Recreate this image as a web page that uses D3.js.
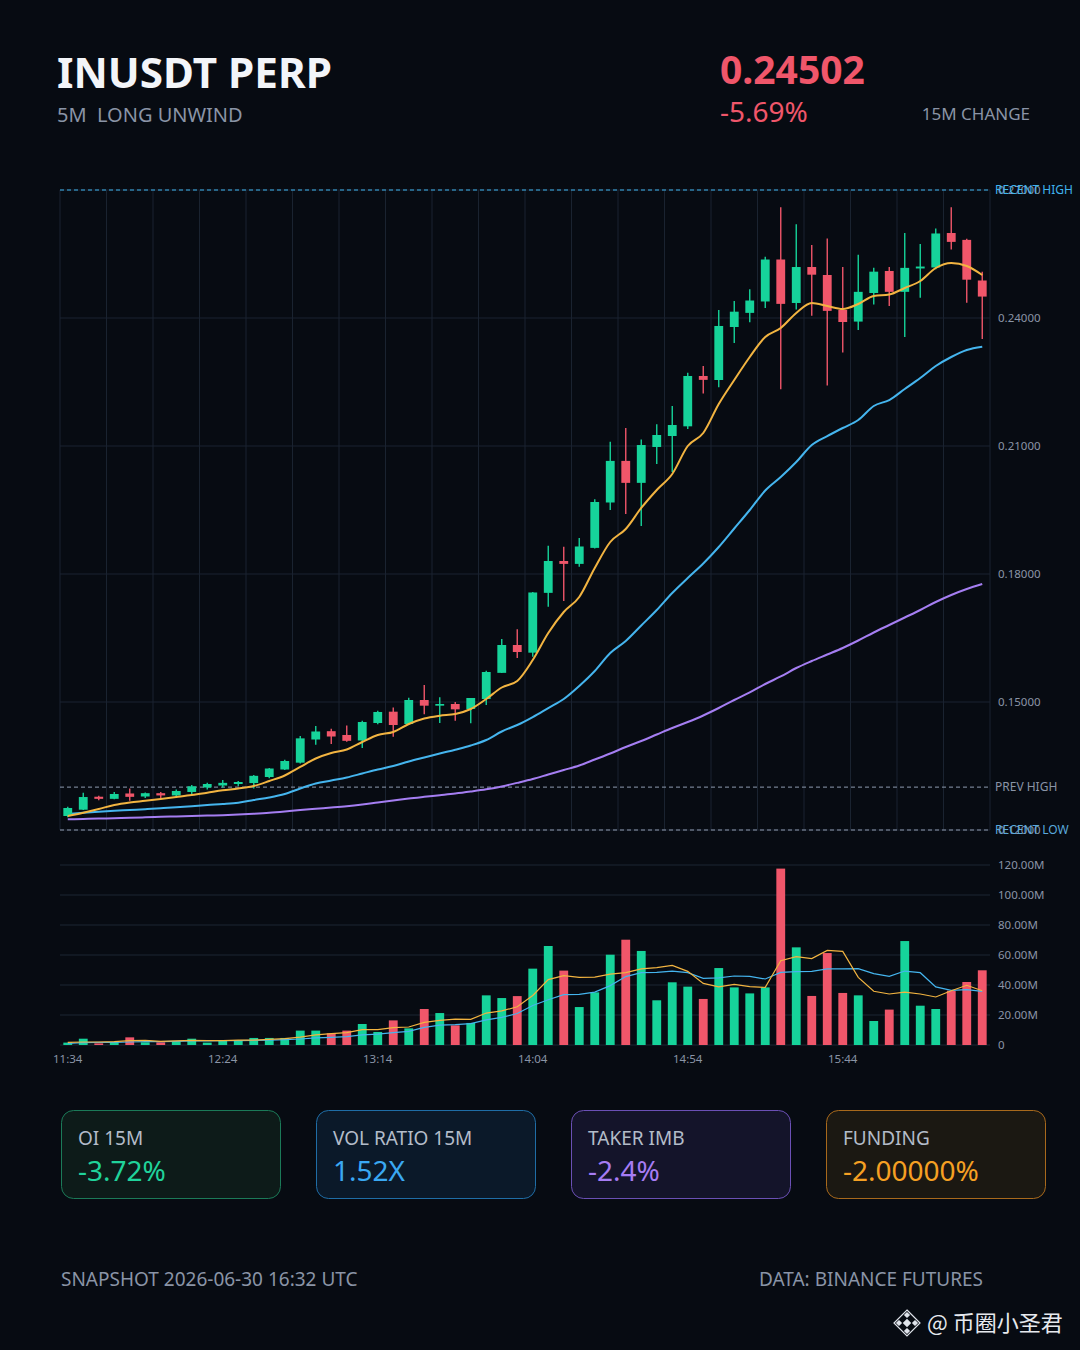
<!DOCTYPE html>
<html>
<head>
<meta charset="utf-8">
<script src="https://cdn.jsdelivr.net/npm/d3@7"></script>
<style>
  body { margin: 0; background: #070b12; }
  svg { display: block; font-family: "Noto Sans", sans-serif; }
</style>
</head>
<body>
<div id="chart"></div>
<script>
// ---------------------------------------- data ----------------------------------------
const opens  = [0.12328,0.12476,0.12780,0.12730,0.12856,0.12785,0.12863,0.12810,0.12891,0.12996,
                0.13043,0.13078,0.13100,0.13242,0.13418,0.13578,0.14121,0.14316,0.14227,0.14098,
                0.14508,0.14773,0.14484,0.15047,0.14914,0.14953,0.14836,0.15070,0.15683,0.16336,
                0.16156,0.17558,0.18305,0.18237,0.18612,0.19676,0.20651,0.20136,0.20977,0.21234,
                0.21461,0.22641,0.22547,0.23789,0.24120,0.24387,0.25371,0.24352,0.25195,0.25008,
                0.24188,0.23916,0.24586,0.25102,0.24613,0.25161,0.25184,0.25992,0.25831,0.24879]
const highs  = [0.12546,0.12874,0.12800,0.12890,0.12973,0.12880,0.12890,0.12950,0.13055,0.13110,
                0.13174,0.13150,0.13290,0.13456,0.13644,0.14203,0.14437,0.14375,0.14449,0.14560,
                0.14797,0.14871,0.15100,0.15398,0.15110,0.15000,0.15094,0.15734,0.16477,0.16704,
                0.17581,0.18663,0.18640,0.18844,0.19750,0.21101,0.21422,0.21153,0.21508,0.21938,
                0.22714,0.22875,0.24188,0.24398,0.24673,0.25434,0.26595,0.26196,0.25710,0.25866,
                0.25195,0.25484,0.25175,0.25195,0.25995,0.25734,0.26098,0.26595,0.25855,0.25086]
const lows   = [0.12300,0.12469,0.12700,0.12720,0.12684,0.12750,0.12740,0.12780,0.12844,0.12950,
                0.12996,0.13030,0.12970,0.13210,0.13406,0.13560,0.13997,0.14016,0.14066,0.13920,
                0.14480,0.14187,0.14460,0.14710,0.14510,0.14559,0.14500,0.14930,0.15680,0.16034,
                0.16060,0.17233,0.17367,0.18167,0.18600,0.19500,0.19406,0.19127,0.20578,0.20393,
                0.21400,0.22230,0.22375,0.23414,0.23899,0.24234,0.22329,0.24200,0.24050,0.22420,
                0.23192,0.23721,0.24317,0.24284,0.23557,0.24472,0.25144,0.25605,0.24355,0.23510]
const closes = [0.12516,0.12773,0.12730,0.12844,0.12777,0.12863,0.12810,0.12914,0.13024,0.13078,
                0.13105,0.13125,0.13270,0.13441,0.13617,0.14148,0.14309,0.14191,0.14090,0.14531,
                0.14766,0.14461,0.15047,0.14914,0.14953,0.14828,0.15094,0.15703,0.16336,0.16172,
                0.17567,0.18305,0.18237,0.18645,0.19688,0.20651,0.20136,0.21023,0.21258,0.21492,
                0.22641,0.22550,0.23813,0.24148,0.24410,0.25371,0.24331,0.25195,0.25015,0.24167,
                0.23906,0.24613,0.25086,0.24613,0.25175,0.25206,0.25981,0.25784,0.24898,0.24502]

// moving averages as drawn (they include history before the window)
const maFast = [0.12328,0.12405,0.12492,0.12586,0.12645,0.12684,0.12727,0.12773,0.12820,0.12874,
                0.12930,0.12973,0.13031,0.13148,0.13277,0.13477,0.13676,0.13805,0.13887,0.14063,
                0.14227,0.14297,0.14484,0.14613,0.14679,0.14719,0.14836,0.15070,0.15340,0.15492,
                0.15984,0.16617,0.17109,0.17461,0.18141,0.18750,0.19055,0.19547,0.19969,0.20344,
                0.21000,0.21305,0.21984,0.22547,0.23086,0.23555,0.23766,0.24117,0.24352,0.24281,
                0.24211,0.24328,0.24516,0.24551,0.24703,0.24867,0.25172,0.25289,0.25219,0.25008]
const maMid  = [0.12375,0.12403,0.12429,0.12450,0.12469,0.12488,0.12509,0.12532,0.12558,0.12586,
                0.12609,0.12640,0.12703,0.12762,0.12844,0.12973,0.13090,0.13160,0.13230,0.13324,
                0.13418,0.13500,0.13605,0.13699,0.13793,0.13882,0.13980,0.14109,0.14309,0.14461,
                0.14648,0.14859,0.15070,0.15375,0.15727,0.16148,0.16430,0.16793,0.17156,0.17555,
                0.17906,0.18246,0.18633,0.19066,0.19500,0.19957,0.20273,0.20625,0.21023,0.21234,
                0.21422,0.21609,0.21938,0.22078,0.22336,0.22594,0.22875,0.23086,0.23250,0.23327]
const maSlow = [0.12251,0.12258,0.12267,0.12277,0.12286,0.12298,0.12309,0.12319,0.12328,0.12338,
                0.12347,0.12361,0.12380,0.12403,0.12434,0.12469,0.12499,0.12527,0.12558,0.12598,
                0.12645,0.12691,0.12738,0.12778,0.12816,0.12855,0.12902,0.12954,0.13020,0.13105,
                0.13195,0.13301,0.13406,0.13512,0.13652,0.13793,0.13945,0.14086,0.14238,0.14391,
                0.14531,0.14684,0.14859,0.15047,0.15223,0.15422,0.15598,0.15797,0.15961,0.16113,
                0.16266,0.16441,0.16629,0.16805,0.16980,0.17156,0.17344,0.17508,0.17648,0.17766]

// volume in millions
const volumes = [1.6,4.2,1.1,2.0,5.1,1.8,1.8,2.4,4.2,1.6,
                 2.9,2.9,4.7,4.7,4.7,9.6,9.6,7.8,9.6,14.0,
                 8.7,16.4,11.1,24.0,21.3,13.1,14.7,33.1,31.3,32.6,
                 50.9,66.0,49.6,25.3,35.1,60.2,70.2,62.7,29.8,41.8,
                 38.9,30.7,51.3,38.4,34.4,38.4,117.6,65.1,32.7,61.3,
                 34.7,33.1,16.0,23.6,69.3,26.2,24.0,36.2,42.0,49.8]
const volMaFast = [1.8,2.0,2.0,2.2,2.9,3.1,2.4,2.7,3.1,2.9,
                   2.9,3.3,3.3,3.8,4.2,5.3,6.7,7.6,8.2,10.2,
                   10.2,11.6,12.0,15.1,16.4,17.3,17.1,21.3,22.7,25.5,
                   33.0,43.6,46.2,45.1,45.3,47.3,48.2,50.7,51.6,53.1,
                   49.1,41.1,38.7,40.4,38.9,38.4,56.2,58.9,57.6,63.1,
                   62.4,45.1,35.8,34.0,35.3,34.0,32.0,36.2,39.8,36.2]
const volMaSlow = [1.1,1.6,1.8,1.8,2.0,2.2,2.2,2.4,2.7,2.7,
                   2.9,2.9,3.1,3.3,3.6,4.0,4.7,5.1,5.6,6.7,
                   7.3,8.2,9.1,11.8,13.3,13.6,14.2,16.7,18.4,21.0,
                   26.3,30.2,33.6,33.8,35.3,39.6,45.6,48.2,48.4,49.3,
                   48.2,44.4,44.7,46.0,45.8,44.0,48.4,48.9,49.1,50.7,
                   50.7,50.9,47.6,45.8,49.3,48.2,38.7,36.4,36.9,35.8]

const timeTickIdx = [0, 10, 20, 30, 40, 50]
const timeLabels = ["11:34", "12:24", "13:14", "14:04", "14:54", "15:44"]
const priceTicks = [0.12, 0.15, 0.18, 0.21, 0.24, 0.27]
const volTicks = [0, 20, 40, 60, 80, 100, 120]

const levelNames = ["RECENT HIGH", "PREV HIGH", "RECENT LOW"]
const levelValues = [0.27, 0.13005, 0.12]

const cardLabels = ["OI 15M", "VOL RATIO 15M", "TAKER IMB", "FUNDING"]
const cardValues = ["-3.72%", "1.52X", "-2.4%", "-2.00000%"]

const GREEN = "#16d39a", RED = "#f0566a", MUTED = "#8a94a6", GRID = "#1a2330"

// ---------------------------------------- svg ----------------------------------------
var W = 1080, H = 1350
var svg = d3.select("#chart").append("svg")
    .attr("width", W)
    .attr("height", H)

svg.append("rect").attr("width", W).attr("height", H).attr("fill", "#070b12")

// header
svg.append("text").attr("x", 57).attr("y", 88)
  .attr("fill", "#f3f5f9").attr("font-size", 42).attr("font-weight", 700)
  .attr("textLength", 275).attr("lengthAdjust", "spacingAndGlyphs")
  .text("INUSDT PERP")
svg.append("text").attr("x", 57).attr("y", 122)
  .attr("fill", MUTED).attr("font-size", 20)
  .attr("xml:space", "preserve")
  .text("5M  LONG UNWIND")
svg.append("text").attr("x", 720).attr("y", 84)
  .attr("fill", RED).attr("font-size", 39).attr("font-weight", 700)
  .text(d3.format(".5f")(closes[closes.length - 1]))
svg.append("text").attr("x", 720).attr("y", 122)
  .attr("fill", RED).attr("font-size", 28)
  .text("-5.69%")
svg.append("text").attr("x", 1030).attr("y", 120)
  .attr("fill", MUTED).attr("font-size", 17).attr("text-anchor", "end")
  .text("15M CHANGE")

// ---------------------------------------- price panel ----------------------------------------
var xScale = d3.scaleBand()
    .domain(d3.range(closes.length))
    .range([60, 990])
var cx = i => xScale(i) + xScale.bandwidth() / 2
var bodyW = xScale.bandwidth() * 0.57

var yScale = d3.scaleLinear()
    .domain([0.12, 0.27])
    .range([830, 190])

var priceG = svg.append("g").attr("class", "price")

// vertical grid every 3 candles
var vLines = d3.range(0, closes.length + 1, 3)
priceG.selectAll(".vgrid").data(vLines).enter().append("line")
  .attr("x1", d => d < closes.length ? xScale(d) : xScale.range()[1])
  .attr("x2", d => d < closes.length ? xScale(d) : xScale.range()[1])
  .attr("y1", yScale.range()[1]).attr("y2", yScale.range()[0])
  .attr("stroke", GRID).attr("stroke-width", 1)

priceG.selectAll(".hgrid").data(priceTicks).enter().append("line")
  .attr("x1", 60).attr("x2", 990)
  .attr("y1", d => yScale(d)).attr("y2", d => yScale(d))
  .attr("stroke", GRID).attr("stroke-width", 1)

var yAxis = d3.axisRight(yScale)
  .tickValues(priceTicks)
  .tickFormat(d3.format(".5f"))
  .tickSize(0)
  .tickPadding(8)
var yAxisG = priceG.append("g").attr("transform", "translate(990,0)").call(yAxis)
yAxisG.select(".domain").remove()
yAxisG.selectAll("text").attr("fill", MUTED).attr("font-size", 11.5).attr("font-family", "Noto Sans")

// level lines
var levelColors = ["#3fb4ee", "#8f9bb0", "#8f9bb0"]
var labelColors = ["#3fb4ee", MUTED, "#5aa9dc"]
levelValues.forEach((v, i) => {
  priceG.append("line")
    .attr("x1", 60).attr("x2", 990)
    .attr("y1", yScale(v)).attr("y2", yScale(v))
    .attr("stroke", levelColors[i]).attr("stroke-width", 1)
    .attr("stroke-dasharray", "4,3")
  priceG.append("text")
    .attr("x", 995).attr("y", yScale(v)).attr("dy", "0.35em")
    .attr("fill", labelColors[i]).attr("font-size", 12)
    .text(levelNames[i])
})

// moving averages
var maLine = arr => d3.line()
    .x((d, i) => cx(i))
    .y(d => yScale(d))
    .curve(d3.curveMonotoneX)(arr)

priceG.append("path").attr("d", maLine(maSlow))
  .attr("fill", "none").attr("stroke", "#a57ef2").attr("stroke-width", 2)
priceG.append("path").attr("d", maLine(maMid))
  .attr("fill", "none").attr("stroke", "#45b5ee").attr("stroke-width", 2)

// candles
var candles = priceG.selectAll(".candle").data(closes).enter().append("g")
  .attr("class", "candle")
candles.append("line")
  .attr("x1", (d, i) => cx(i)).attr("x2", (d, i) => cx(i))
  .attr("y1", (d, i) => yScale(highs[i])).attr("y2", (d, i) => yScale(lows[i]))
  .attr("stroke", (d, i) => d >= opens[i] ? GREEN : RED)
  .attr("stroke-width", 1.4)
candles.append("rect")
  .attr("x", (d, i) => cx(i) - bodyW / 2)
  .attr("width", bodyW)
  .attr("y", (d, i) => yScale(Math.max(d, opens[i])))
  .attr("height", (d, i) => Math.max(1.6, Math.abs(yScale(d) - yScale(opens[i]))))
  .attr("fill", (d, i) => d >= opens[i] ? GREEN : RED)

priceG.append("path").attr("d", maLine(maFast))
  .attr("fill", "none").attr("stroke", "#f2b441").attr("stroke-width", 2)

// ---------------------------------------- volume panel ----------------------------------------
var yVol = d3.scaleLinear()
    .domain([0, 120])
    .range([1045, 865])

var volG = svg.append("g").attr("class", "volume")

volG.selectAll(".vgridline").data(volTicks).enter().append("line")
  .attr("x1", 60).attr("x2", 990)
  .attr("y1", d => yVol(d)).attr("y2", d => yVol(d))
  .attr("stroke", "#1c2633").attr("stroke-width", 1)

var vAxisG = volG.append("g").attr("transform", "translate(990,0)")
  .call(d3.axisRight(yVol).tickValues(volTicks)
    .tickFormat(d => d === 0 ? "0" : d.toFixed(2) + "M")
    .tickSize(0).tickPadding(8))
vAxisG.select(".domain").remove()
vAxisG.selectAll("text").attr("fill", MUTED).attr("font-size", 11.5).attr("font-family", "Noto Sans")

volG.selectAll(".bar").data(volumes).enter().append("rect")
  .attr("x", (d, i) => cx(i) - bodyW / 2)
  .attr("width", bodyW)
  .attr("y", d => yVol(d))
  .attr("height", d => yVol(0) - yVol(d))
  .attr("fill", (d, i) => closes[i] >= opens[i] ? GREEN : RED)

var volLine = d3.line()
    .x((d, i) => cx(i))
    .y(d => yVol(d))

volG.append("path").attr("d", volLine(volMaSlow))
  .attr("fill", "none").attr("stroke", "#45b5ee").attr("stroke-width", 1.2)
volG.append("path").attr("d", volLine(volMaFast))
  .attr("fill", "none").attr("stroke", "#f2b441").attr("stroke-width", 1.2)

var xAxisG = volG.append("g").attr("transform", "translate(0,1045)")
  .call(d3.axisBottom(xScale).tickValues(timeTickIdx)
    .tickFormat((d, i) => timeLabels[i])
    .tickSize(0).tickPadding(10))
xAxisG.select(".domain").remove()
xAxisG.selectAll("text").attr("fill", MUTED).attr("font-size", 11.5).attr("font-family", "Noto Sans")

// ---------------------------------------- cards ----------------------------------------
var cardFill = ["#0d1b19", "#0b1929", "#14142a", "#1b1812"]
var cardStroke = ["#1b7a58", "#1f6da6", "#6b50b5", "#a8691c"]
var cardText = ["#20d39b", "#3aa8f2", "#a67cf4", "#f5a023"]
var cardW = 219, cardH = 88, cardGap = 36

var cards = svg.selectAll(".card").data(cardLabels).enter().append("g")
  .attr("class", "card")
  .attr("transform", (d, i) => "translate(" + (61 + i * (cardW + cardGap)) + ",1110)")
cards.append("rect")
  .attr("x", 0.5).attr("y", 0.5)
  .attr("width", cardW).attr("height", cardH)
  .attr("rx", 12)
  .attr("fill", (d, i) => cardFill[i])
  .attr("stroke", (d, i) => cardStroke[i])
cards.append("text")
  .attr("x", 17).attr("y", 35)
  .attr("fill", "#b3bcc9").attr("font-size", 19)
  .text(d => d)
cards.append("text")
  .attr("x", 17).attr("y", 71)
  .attr("fill", (d, i) => cardText[i]).attr("font-size", 28)
  .text((d, i) => cardValues[i])

// ---------------------------------------- footer ----------------------------------------
svg.append("text").attr("x", 61).attr("y", 1286)
  .attr("fill", MUTED).attr("font-size", 19)
  .text("SNAPSHOT 2026-06-30 16:32 UTC")
svg.append("text").attr("x", 983).attr("y", 1286)
  .attr("fill", MUTED).attr("font-size", 19).attr("text-anchor", "end")
  .text("DATA: BINANCE FUTURES")

// watermark
var wm = svg.append("g").attr("transform", "translate(907,1323)").attr("fill", "#dfe3ea")
wm.append("rect").attr("x", -3).attr("y", -3).attr("width", 6).attr("height", 6).attr("transform", "rotate(45)")
;[[0, -8], [8, 0], [0, 8], [-8, 0]].forEach(p => {
  wm.append("rect").attr("x", p[0] - 2.2).attr("y", p[1] - 2.2).attr("width", 4.4).attr("height", 4.4)
    .attr("transform", "rotate(45," + p[0] + "," + p[1] + ")")
})
wm.append("path").attr("d", "M0,-13 L13,0 L0,13 L-13,0 Z").attr("fill", "none").attr("stroke", "#dfe3ea").attr("stroke-width", 1.2)
svg.append("text").attr("x", 927).attr("y", 1331)
  .attr("fill", "#e6e9ee").attr("font-size", 22)
  .attr("font-family", "Noto Sans CJK SC")
  .text("@ 币圈小圣君")
</script>
</body>
</html>
